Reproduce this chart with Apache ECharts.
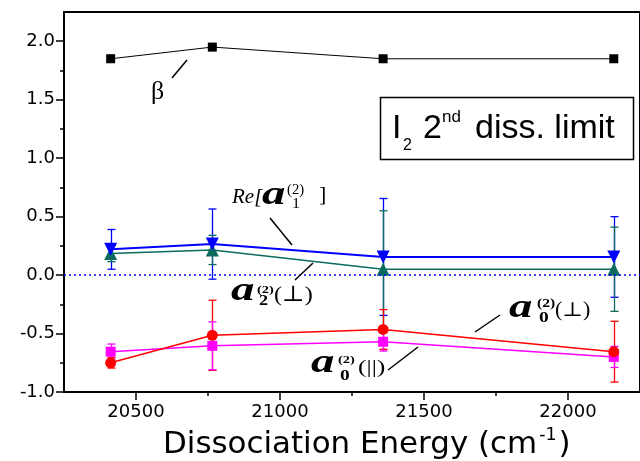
<!DOCTYPE html>
<html><head><meta charset="utf-8">
<script src="https://cdn.jsdelivr.net/npm/echarts@6/dist/echarts.min.js"></script>
<style>html,body{margin:0;padding:0;background:#fff}#c{width:640px;height:461px}</style>
</head><body><div id="c"></div>
<script>
// ---- data ----
const energies = [20412, 20765, 21358, 22159];
const beta = [1.85, 1.95, 1.85, 1.85];
const betaErr = [0.03, 0.03, 0.025, 0.025];
const reA1 = [0.22, 0.265, 0.155, 0.155];
const reA1Err = [0.17, 0.30, 0.50, 0.345];
const a2Perp = [0.185, 0.215, 0.05, 0.05];
const a2PerpErr = [0.07, 0.125, 0.50, 0.36];
const a0Perp = [-0.75, -0.515, -0.465, -0.655];
const a0PerpErr = [0.045, 0.30, 0.17, 0.26];
const a0Par = [-0.655, -0.605, -0.57, -0.70];
const a0ParErr = [0.065, 0.205, 0.08, 0.09];
const xTicks = [20500, 21000, 21500, 22000];
const xMinorTicks = [20750, 21250, 21750];
const yTicks = [-1.0, -0.5, 0.0, 0.5, 1.0, 1.5, 2.0];
const yMinorTicks = [-0.75, -0.25, 0.25, 0.75, 1.25, 1.75];
const xTitle = 'Dissociation Energy (cm';
const boxTitle = ['I', '2', '2', 'nd', 'diss. limit'];

const BLUE = '#0000ff', TEAL = '#0b6b5e', RED = '#ff0000', MAG = '#ff00ff';
const SERIF = '"Liberation Serif", "DejaVu Serif", serif';
const SANS = '"Liberation Sans", Arial, sans-serif';

const chart = echarts.init(document.getElementById('c'), null, {renderer: 'canvas'});

function pts(vals) { return energies.map((x, i) => [x, vals[i]]); }
function lineSeries(name, vals, color, symbol, size, width, rotate, extra) {
  return Object.assign({
    type: 'line', name, data: pts(vals), symbol, symbolSize: size, symbolRotate: rotate || 0,
    lineStyle: {color, width}, itemStyle: {color, borderWidth: 0}, z: 3, animation: false, silent: true
  }, extra || {});
}
function errSeries(vals, errs, color, capW, lw) {
  return {
    type: 'custom', animation: false, silent: true, z: 2,
    data: energies.map((x, i) => [x, vals[i] - errs[i], vals[i] + errs[i]]),
    renderItem: function (params, api) {
      const x = api.value(0);
      const pLo = api.coord([x, api.value(1)]);
      const pHi = api.coord([x, api.value(2)]);
      const cx = Math.round(pLo[0]) + 0.5, hw = capW / 2;
      const st = {stroke: color, lineWidth: lw, fill: null};
      return {type: 'group', children: [
        {type: 'line', shape: {x1: cx, y1: pLo[1], x2: cx, y2: pHi[1]}, style: st},
        {type: 'line', shape: {x1: cx - hw, y1: pLo[1], x2: cx + hw, y2: pLo[1]}, style: st},
        {type: 'line', shape: {x1: cx - hw, y1: pHi[1], x2: cx + hw, y2: pHi[1]}, style: st}
      ]};
    }
  };
}

// text piece: x = left edge, b = baseline, size = font px, fontStr, sx = horizontal stretch
function TT(str, x, b, size, fontStr, sx) {
  return {type: 'text', x: x, y: b - 0.34 * size, scaleX: sx || 1, silent: true, z: 100,
    style: {text: str, font: fontStr, fill: '#000', align: 'left', verticalAlign: 'middle'}};
}
function L(x1, y1, x2, y2) {
  return {type: 'line', silent: true, z: 100, shape: {x1, y1, x2, y2}, style: {stroke: '#000', lineWidth: 1.5}};
}

const ctx = document.createElement('canvas').getContext('2d');
function measure(str, font) { ctx.font = font; return ctx.measureText(str).width; }

const titleFont = '30px "DejaVu Sans"';
const titleSX = 1.03;
const titleX = 163, titleB = 455;
const w1 = measure(xTitle, titleFont) * titleSX;
const supFont = '17px "DejaVu Sans"';
const w2 = measure('-1', supFont) * titleSX;

const ai = (s) => 'italic bold ' + s + 'px ' + SERIF;
const rg = (s) => 'normal ' + s + 'px ' + SERIF;
const bd = (s) => 'bold ' + s + 'px ' + SERIF;
const it = (s) => 'italic ' + s + 'px ' + SERIF;
const SX = 1.42;

const graphics = [
  // title box
  {type: 'rect', z: 99, silent: true, shape: {x: 380.5, y: 97.5, width: 253, height: 62}, style: {fill: '#fff', stroke: '#000', lineWidth: 1.5}},
  TT(boxTitle[0], 392, 140, 34, '34px ' + SANS),
  TT(boxTitle[1], 403, 151, 16, '16px ' + SANS),
  TT(boxTitle[2], 423, 140, 34, '34px ' + SANS),
  TT(boxTitle[3], 442, 123, 17, '17px ' + SANS),
  TT(boxTitle[4], 475, 140, 34, '34px ' + SANS),
  // x-axis title
  TT(xTitle, titleX, titleB, 30, titleFont, titleSX),
  TT('-1', titleX + w1 + 2, titleB - 14, 17, supFont, titleSX),
  TT(')', titleX + w1 + w2 + 4, titleB, 30, titleFont, titleSX),
  // beta label
  TT('\u03b2', 151, 101, 26, rg(26)),
  L(172, 78, 187, 60),
  // Re[a1(2)]
  TT('Re[', 232, 205, 21, it(21)),
  TT('a', 262, 207, 33, ai(33), SX),
  TT('(2)', 287, 195, 14, rg(14), 1.05),
  TT('1', 292, 209, 14, rg(14), 1.15),
  TT(']', 319, 203, 22, rg(22)),
  L(270, 218, 292, 245),
  // a2(2)(perp)
  TT('a', 231, 303, 33, ai(33), SX),
  TT('(2)', 257, 294, 11, bd(11), 1.3),
  TT('2', 259, 306, 14, bd(14), 1.3),
  TT('(\u22a5)', 274, 303, 22, rg(22), 1.1),
  L(295, 280, 313, 263),
  // a0(2)(perp)
  TT('a', 509, 320, 33, ai(33), SX),
  TT('(2)', 537, 308, 12, bd(12), 1.3),
  TT('0', 539, 323, 15, bd(15), 1.3),
  TT('(\u22a5)', 555, 318, 20, rg(20), 1.1),
  L(475, 332, 500, 315),
  // a0(2)(||)
  TT('a', 311, 375, 33, ai(33), SX),
  TT('(2)', 338, 364, 11, bd(11), 1.3),
  TT('0', 340, 381, 15, bd(15), 1.3),
  TT('(||)', 358, 374.5, 19, rg(19), 1.35),
  L(388, 370, 418, 347)
];

const gridBox = {left: 64, top: 12, right: -10, bottom: 69};
const option = {
  animation: false,
  backgroundColor: '#fff',
  grid: [
    Object.assign({show: true, borderColor: '#000', borderWidth: 2, backgroundColor: 'transparent', containLabel: false}, gridBox),
    Object.assign({show: false, containLabel: false}, gridBox)
  ],
  xAxis: [
    {type: 'value', gridIndex: 0, min: 20250, max: 22250, position: 'bottom',
      axisLine: {show: true, onZero: false, lineStyle: {color: '#000', width: 2}},
      axisTick: {show: true, inside: false, length: 8, customValues: xTicks, lineStyle: {color: '#000', width: 1.5}},
      axisLabel: {show: true, customValues: xTicks, margin: 11, color: '#000', fontFamily: 'DejaVu Sans', fontSize: 18, formatter: v => String(v)},
      splitLine: {show: false}},
    {type: 'value', gridIndex: 1, min: 20250, max: 22250, position: 'bottom',
      axisLine: {show: false, onZero: false}, axisLabel: {show: false}, splitLine: {show: false},
      axisTick: {show: true, inside: false, length: 4, customValues: xMinorTicks, lineStyle: {color: '#000', width: 1.5}}}
  ],
  yAxis: [
    {type: 'value', gridIndex: 0, min: -1, max: 2.25, position: 'left',
      axisLine: {show: true, onZero: false, lineStyle: {color: '#000', width: 2}},
      axisTick: {show: true, inside: false, length: 8, customValues: yTicks, lineStyle: {color: '#000', width: 1.5}},
      axisLabel: {show: true, customValues: yTicks, margin: 9, color: '#000', fontFamily: 'DejaVu Sans', fontSize: 18, formatter: v => v.toFixed(1)},
      splitLine: {show: false}},
    {type: 'value', gridIndex: 1, min: -1, max: 2.25, position: 'left',
      axisLine: {show: false, onZero: false}, axisLabel: {show: false}, splitLine: {show: false},
      axisTick: {show: true, inside: false, length: 4, customValues: yMinorTicks, lineStyle: {color: '#000', width: 1.5}}}
  ],
  series: [
    errSeries(beta, betaErr, '#000', 7, 1.2),
    errSeries(reA1, reA1Err, BLUE, 8, 1.3),
    errSeries(a2Perp, a2PerpErr, TEAL, 8, 1.3),
    errSeries(a0Perp, a0PerpErr, RED, 8, 1.3),
    errSeries(a0Par, a0ParErr, MAG, 8, 1.3),
    lineSeries('beta', beta, '#000', 'rect', 9, 1),
    lineSeries('a0par', a0Par, MAG, 'rect', 10, 1.5),
    lineSeries('a0perp', a0Perp, RED, 'circle', 11, 1.5),
    lineSeries('a2perp', a2Perp, TEAL, 'triangle', 13, 1.5),
    lineSeries('reA1', reA1, BLUE, 'triangle', 13, 2, 180, {
      markLine: {silent: true, symbol: ['none', 'none'], label: {show: false}, animation: false,
        lineStyle: {color: BLUE, type: [2, 3], width: 1.5}, data: [{yAxis: 0}]}
    })
  ],
  graphic: graphics
};
chart.setOption(option);
</script>
</body></html>
